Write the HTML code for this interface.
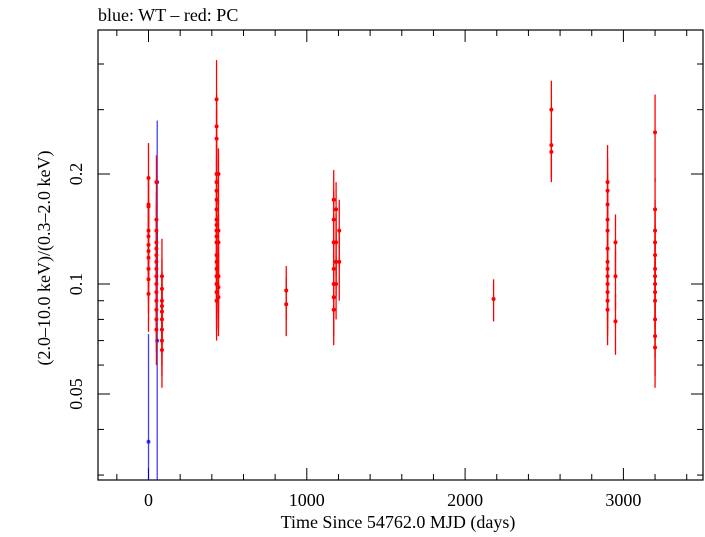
<!DOCTYPE html>
<html><head><meta charset="utf-8"><style>
body{margin:0;background:#fff}
svg text{font-family:"Liberation Serif",serif;font-size:18px;fill:#000}
</style></head><body>
<svg id="chart" width="705" height="532" xmlns="http://www.w3.org/2000/svg">
<text x="98" y="21" font-size="17">blue: WT – red: PC</text>
<rect x="98" y="30" width="605" height="450" fill="none" stroke="#000" stroke-width="1.2"/>
<g id="axes"></g><g id="marks"></g>
<text x="398" y="528" text-anchor="middle">Time Since 54762.0 MJD (days)</text>
<text transform="translate(50,258) rotate(-90)" text-anchor="middle">(2.0–10.0 keV)/(0.3–2.0 keV)</text>
</svg>
<script>
const xTickLabels=[0,1000,2000,3000];
const yTickLabels=[0.05,0.1,0.2];
const redT=[0,0,0,0,0,0,0,0,0,0,0,
50,50,50,50,50,50,50,50,50,50,50,50,50,50,50,
85,85,85,85,85,85,85,85,85,
430,430,430,430,430,430,430,430,430,430,430,430,430,430,430,430,430,430,430,430,
442,442,442,442,442,442,
870,870,
1170,1170,1170,1170,1170,1170,1170,
1185,1185,1185,1185,
1205,1205,
2180,
2545,2545,2545,
2900,2900,2900,2900,2900,2900,2900,2900,2900,2900,2900,2900,2900,
2950,2950,2950,
3200,3200,3200,3200,3200,3200,3200,3200,3200,3200,3200,3200,3200];
const redV=[0.195,0.165,0.163,0.14,0.135,0.128,0.123,0.118,0.11,0.103,0.094,
0.19,0.15,0.14,0.13,0.125,0.12,0.115,0.11,0.105,0.1,0.095,0.09,0.085,0.08,0.075,
0.105,0.097,0.09,0.087,0.084,0.08,0.075,0.07,0.066,
0.32,0.27,0.25,0.2,0.19,0.18,0.17,0.16,0.15,0.145,0.14,0.135,0.13,0.12,0.115,0.11,0.105,0.1,0.095,0.09,
0.2,0.14,0.13,0.105,0.098,0.092,
0.096,0.088,
0.17,0.15,0.13,0.11,0.1,0.092,0.085,
0.16,0.13,0.115,0.1,
0.14,0.115,
0.091,
0.3,0.24,0.23,
0.19,0.18,0.165,0.15,0.14,0.125,0.115,0.11,0.105,0.1,0.095,0.09,0.085,
0.13,0.105,0.079,
0.26,0.16,0.14,0.13,0.12,0.11,0.105,0.1,0.095,0.09,0.08,0.072,0.067];
const redE=[0.048,0.03,0.03,0.025,0.025,0.022,0.022,0.02,0.02,0.02,0.02,
0.035,0.028,0.025,0.022,0.022,0.02,0.02,0.02,0.018,0.018,0.018,0.016,0.016,0.015,0.015,
0.028,0.02,0.018,0.018,0.016,0.016,0.015,0.014,0.014,
0.09,0.06,0.05,0.04,0.035,0.035,0.03,0.03,0.028,0.028,0.026,0.025,0.025,0.022,0.022,0.02,0.02,0.02,0.02,0.02,
0.035,0.03,0.025,0.022,0.022,0.02,
0.016,0.016,
0.035,0.03,0.025,0.022,0.02,0.02,0.017,
0.03,0.025,0.022,0.02,
0.03,0.025,
0.012,
0.06,0.045,0.04,
0.05,0.04,0.035,0.03,0.028,0.025,0.022,0.022,0.02,0.02,0.02,0.018,0.017,
0.025,0.02,0.015,
0.07,0.035,0.03,0.028,0.025,0.022,0.022,0.02,0.02,0.02,0.017,0.016,0.015];
const blueT=[0,55,55];
const blueV=[0.037,0.19,0.07];
const blueE=[0.036,0.09,0.07];
const X0=98,X1=703,Y0=30,Y1=480;
function xs(t){return 148.5+t*0.1583;}
function ys(v){return 284-365.4*Math.log10(v/0.1);}
const NS="http://www.w3.org/2000/svg";
function mk(tag,attrs,parent){const e=document.createElementNS(NS,tag);for(const k in attrs)e.setAttribute(k,attrs[k]);parent.appendChild(e);return e;}
const axes=document.getElementById('axes'),marks=document.getElementById('marks');
for(let t=-200;t<=3400;t+=200){const x=xs(t);const L=(t%1000===0)?12:6;
const a=mk('line',{x1:x,x2:x,y1:Y1,y2:Y1-L,stroke:'#000'},axes);


const b=mk('line',{x1:x,x2:x,y1:Y0,y2:Y0+L,stroke:'#000'},axes);

}
xTickLabels.forEach(t=>{const e=mk('text',{x:xs(t),y:506,'text-anchor':'middle'},axes);e.textContent=t;

});
const minorY=[0.03,0.04,0.06,0.07,0.08,0.09,0.3,0.4];
minorY.concat(yTickLabels).forEach(v=>{const y=ys(v);const L=yTickLabels.includes(v)?12:6;
const a=mk('line',{x1:X0,x2:X0+L,y1:y,y2:y,stroke:'#000'},axes);


const b=mk('line',{x1:X1,x2:X1-L,y1:y,y2:y,stroke:'#000'},axes);

});
yTickLabels.forEach(v=>{const y=ys(v);const e=mk('text',{transform:`translate(82,${y}) rotate(-90)`,'text-anchor':'middle'},axes);e.textContent=v;

});
function clampY(y){return Math.max(Y0,Math.min(Y1,y));}
function drawSeries(T,V,E,col,name,op){
for(let i=0;i<T.length;i++){const x=xs(T[i]);
const lo=V[i]-E[i];const y1=lo>0?clampY(ys(lo)):Y1;const y2=clampY(ys(V[i]+E[i]));
const l=mk('line',{x1:x,x2:x,y1:y1,y2:y2,stroke:col,'stroke-width':1.3,'stroke-opacity':op},marks);


const c=mk('circle',{cx:x,cy:ys(V[i]),r:2,fill:col,'fill-opacity':op},marks);

}}
drawSeries(blueT,blueV,blueE,'#0000ff','wt',0.75);
drawSeries(redT,redV,redE,'#ff0000','pc',1);
</script>
</body></html>
